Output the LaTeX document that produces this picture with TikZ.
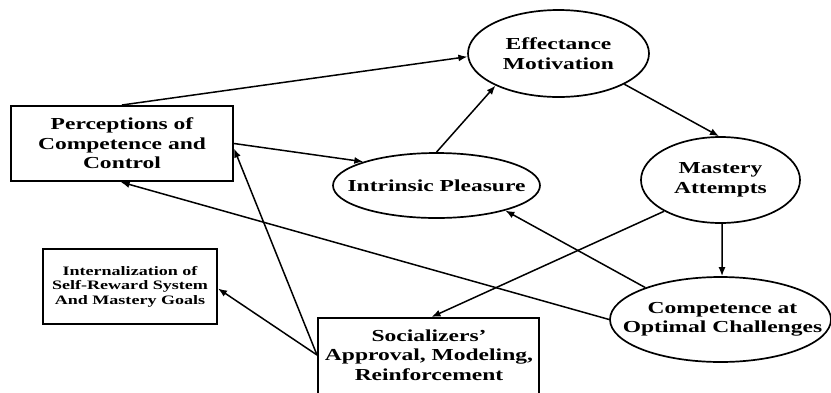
\documentclass[tikz,border=0pt]{standalone}
\usepackage{fontspec}
\setmainfont[FakeStretch=1.4]{Liberation Serif}
\usetikzlibrary{shapes.geometric,arrows.meta}
\tikzset{
  txt/.style={font=\fontsize{16.8}{19.5}\selectfont\bfseries, align=center},
  small/.style={font=\fontsize{12.9}{14.5}\selectfont\bfseries, align=center},
  box/.style={draw, line width=2pt, rectangle, inner sep=0pt},
  ell/.style={draw, line width=1.7pt, ellipse, inner sep=0pt},
  arr/.style={line width=1.5pt, -{Latex[length=9pt,width=7pt]}}
}
\begin{document}
\begin{tikzpicture}[x=1pt,y=-1pt]
\useasboundingbox (0,0) rectangle (831,392);
% boxes
\node[box, txt, minimum width=222pt, minimum height=75pt] (perc) at (122,143.5) {Perceptions of\\Competence and\\Control};
\node[box, small, minimum width=174pt, minimum height=75pt] (intern) at (130,286.5) {Internalization of\\Self-Reward System\\And Mastery Goals};
\node[box, minimum width=221pt, minimum height=80pt] (soc) at (428.5,358) {};
\node[txt, anchor=north] (soctext) at (429,326) {Socializers’\\Approval, Modeling,\\Reinforcement};
% ellipses
\node[ell, minimum width=181pt, minimum height=87pt, label={[txt]center:Effectance\\Motivation}] (eff) at (558.5,53.5) {};
\node[ell, minimum width=159pt, minimum height=86pt, label={[txt]center:Mastery\\Attempts}] (mas) at (720.5,180) {};
\node[ell, minimum width=207pt, minimum height=65pt, label={[txt]center:Intrinsic Pleasure}] (ip) at (436.5,185.5) {};
\node[ell, minimum width=221pt, minimum height=85pt, label={[txt,xshift=2pt]center:Competence at\\Optimal Challenges}] (comp) at (720.5,319.5) {};
% connectors
\draw[arr] (perc.90) -- (eff.182);
\draw[arr] (perc.east) -- (ip.162.5);
\draw[arr] (ip.90) -- (eff.207);
\draw[arr] (eff.335) -- (mas.92);
\draw[arr] (mas.272) -- (comp.88);
\draw[arr] (mas.209.4) -- ([xshift=3pt]soc.north);
\draw[arr] (comp.180) -- (perc.268);
\draw[arr] (comp.157.9) -- (ip.340.7);
\draw[arr] ([yshift=3pt]soc.west) -- ([yshift=-5pt]perc.east);
\draw[arr] ([yshift=3pt]soc.west) -- ([yshift=-2pt]intern.east);
\end{tikzpicture}
\end{document}
